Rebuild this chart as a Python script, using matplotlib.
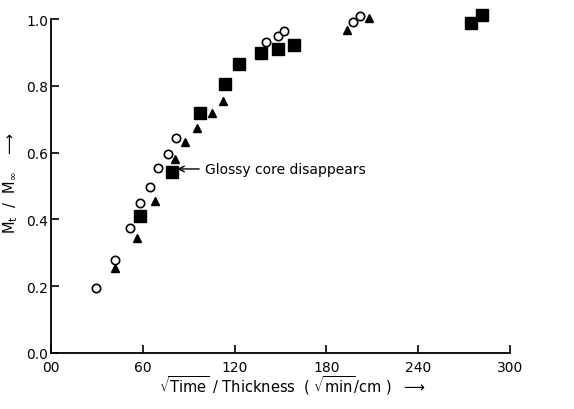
import matplotlib
matplotlib.use("Agg")
import matplotlib.pyplot as plt

# Data
circle_x = [29.4, 42, 51.5, 58, 64.6, 70, 76.3, 81.7, 140.2, 148.3, 152.2, 197.6, 202]
circle_y = [0.196, 0.279, 0.373, 0.448, 0.498, 0.554, 0.597, 0.643, 0.93, 0.95, 0.965, 0.99, 1.008]

tri_x = [42, 56.5, 67.8, 80.9, 87.9, 95.7, 105.5, 112.4, 193.3, 208]
tri_y = [0.255, 0.343, 0.455, 0.58, 0.633, 0.674, 0.718, 0.754, 0.968, 1.003]

sq_x = [58, 78.9, 97.4, 113.5, 122.6, 137.4, 148.3, 158.7, 274.8, 281.6]
sq_y = [0.411, 0.543, 0.72, 0.805, 0.865, 0.897, 0.91, 0.922, 0.988, 1.012]

xticks = [0, 60, 120, 180, 240, 300]
xticklabels = ["00", "60", "120", "180", "240", "300"]
yticks = [0.0, 0.2, 0.4, 0.6, 0.8, 1.0]
yticklabels = ["0.0", "0.2", "0.4", "0.6", "0.8", "1.0"]

annot_text = "Glossy core disappears"
annot_xy = (82.5, 0.551)
annot_text_xy = (100.5, 0.551)

fig = plt.figure(figsize=(5.74, 4.10), dpi=100)
ax = fig.add_axes([51 / 574, 56 / 410, 459 / 574, 334 / 410])

ax.plot(circle_x, circle_y, linestyle="none", marker="o", markersize=6,
        markerfacecolor="white", markeredgecolor="black", markeredgewidth=1.2,
        clip_on=False, zorder=3)
ax.plot(tri_x, tri_y, linestyle="none", marker="^", markersize=6,
        color="black", clip_on=False, zorder=3)
ax.plot(sq_x, sq_y, linestyle="none", marker="s", markersize=9,
        color="black", clip_on=False, zorder=3)

ax.set_xlim(0, 300)
ax.set_ylim(0, 1.0)
ax.set_xticks(xticks)
ax.set_xticklabels(xticklabels)
ax.set_yticks(yticks)
ax.set_yticklabels(yticklabels)
ax.tick_params(direction="in", length=6, width=1.2, labelsize=10)
ax.tick_params(axis="y", pad=2)
ax.tick_params(axis="x", pad=5)

for s in ["top", "right"]:
    ax.spines[s].set_visible(False)
for s in ["left", "bottom"]:
    ax.spines[s].set_linewidth(1.3)

ax.annotate(annot_text, xy=annot_xy, xytext=annot_text_xy,
            fontsize=10, va="center", ha="left",
            arrowprops=dict(arrowstyle="->", color="black", lw=1.0,
                            shrinkA=2, shrinkB=0))

ax.set_xlabel(r"$\sqrt{\mathrm{Time}}$ / Thickness  ( $\sqrt{\mathrm{min}}$/cm )  $\longrightarrow$",
              fontsize=10.5)
ax.xaxis.set_label_coords(0.527, -0.06)
ax.set_ylabel(r"M$_\mathrm{t}$  /  M$_\infty$   $\longrightarrow$", fontsize=10.5)
ax.yaxis.set_label_coords(-0.068, 0.51)

fig.savefig("out.png", dpi=100)
